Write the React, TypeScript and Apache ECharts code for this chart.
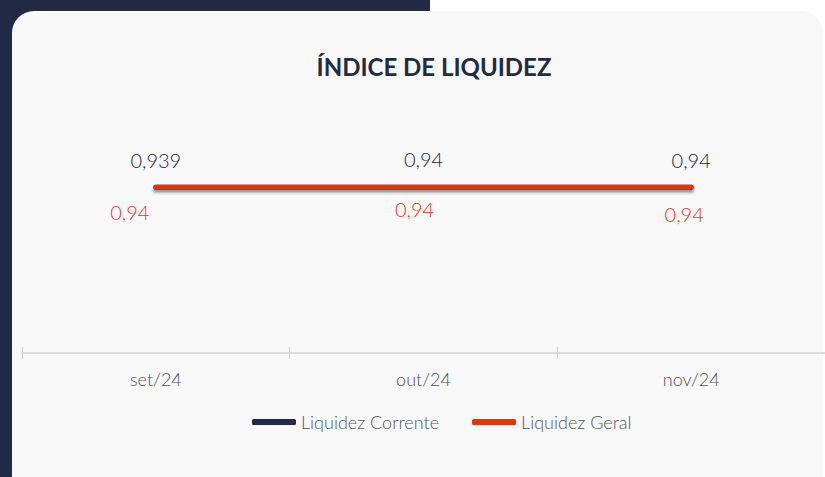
import React, { useEffect, useRef } from "react";
import * as echarts from "echarts";

const categories = ["set/24", "out/24", "nov/24"];
const liquidezCorrente = [0.939, 0.94, 0.94];
const liquidezGeral = [0.94, 0.94, 0.94];
const seriesNames = ["Liquidez Corrente", "Liquidez Geral"];
const chartTitle = "ÍNDICE DE LIQUIDEZ";

// label layout tweaks (offsets in px), not data
const correnteLabelOffsets = [[0, 0], [0, -1], [0, 0]];
const geralLabelOffsets = [[-26, 0], [-9, -3], [-7, 2]];

const FONT = "Lato";
const DARK = "#232a45";
const RED = "#e5330f";

export default function App() {
  const ref = useRef<HTMLDivElement>(null);
  useEffect(() => {
    if (!ref.current) return;
    const chart = echarts.init(ref.current, undefined, { renderer: "svg" });
    const fmt3 = (v: number) => String(Number(v.toFixed(3))).replace(".", ",");
    const fmt2 = (v: number) => v.toFixed(2).replace(".", ",");
    const hiddenX = {
      type: "category",
      data: categories,
      boundaryGap: true,
      show: false,
      gridIndex: 1,
    };
    const shadowSeries = (width: number, alpha: number) => ({
      name: "shadow",
      type: "line",
      xAxisIndex: 2,
      yAxisIndex: 1,
      data: liquidezGeral,
      symbol: "none",
      silent: true,
      lineStyle: { color: `rgba(40,40,40,${alpha})`, width, cap: "round" },
      z: 1,
    });
    chart.setOption({
      animation: false,
      backgroundColor: "transparent",
      textStyle: { fontFamily: FONT },
      graphic: [
        {
          type: "text",
          x: 434,
          y: 66,
          style: {
            text: chartTitle,
            fontFamily: FONT,
            fontSize: 24,
            fontWeight: "bold",
            fill: DARK,
            align: "center",
            verticalAlign: "middle",
          },
        },
      ],
      legend: {
        left: 252,
        top: 413,
        padding: 0,
        itemWidth: 44,
        itemHeight: 6,
        itemGap: 33,
        icon: "roundRect",
        textStyle: { fontFamily: FONT, fontSize: 18, fontWeight: 300, color: "#555555" },
        data: [
          { name: seriesNames[0], itemStyle: { color: DARK, opacity: 1 } },
          { name: seriesNames[1], itemStyle: { color: RED, opacity: 1 } },
        ],
      },
      grid: [
        { left: 22, right: -4, top: 106, bottom: 124, containLabel: false },
        { left: 22, right: -4, top: 109, bottom: 121, containLabel: false },
      ],
      xAxis: [
        {
          type: "category",
          data: categories,
          boundaryGap: true,
          gridIndex: 0,
          axisLine: { lineStyle: { color: "#dcdcdc", width: 2 } },
          axisTick: { show: true, length: 6, lineStyle: { color: "#d0d0d0", width: 1 } },
          axisLabel: { fontFamily: FONT, fontSize: 18, fontWeight: 300, color: "#505050", margin: 17 },
        },
        {
          type: "category",
          data: categories,
          gridIndex: 0,
          position: "bottom",
          boundaryGap: true,
          axisLine: { show: false },
          axisTick: { show: true, inside: true, length: 6, lineStyle: { color: "#d0d0d0", width: 1 } },
          axisLabel: { show: false },
        },
        hiddenX,
      ],
      yAxis: [
        { type: "value", min: 0, max: 1.4, show: false, gridIndex: 0, splitLine: { show: false } },
        { type: "value", min: 0, max: 1.4, show: false, gridIndex: 1, splitLine: { show: false } },
      ],
      series: [
        shadowSeries(9, 0.08),
        shadowSeries(6, 0.18),
        shadowSeries(3, 0.25),
        {
          name: seriesNames[0],
          type: "line",
          data: liquidezCorrente.map((v, i) => ({
            value: v,
            label: { offset: correnteLabelOffsets[i] },
          })),
          symbol: "circle",
          symbolSize: 0,
          itemStyle: { color: DARK },
          lineStyle: { color: DARK, width: 5, cap: "round" },
          label: {
            show: true,
            position: "top",
            distance: 17,
            fontFamily: FONT,
            fontSize: 20,
            fontWeight: 300,
            color: "#1e2540",
            formatter: (p: any) => fmt3(p.value),
          },
          z: 2,
        },
        {
          name: seriesNames[1],
          type: "line",
          data: liquidezGeral.map((v, i) => ({
            value: v,
            label: { offset: geralLabelOffsets[i] },
          })),
          symbol: "circle",
          symbolSize: 0,
          itemStyle: { color: RED },
          lineStyle: { color: RED, width: 5, cap: "round" },
          label: {
            show: true,
            position: "bottom",
            distance: 15,
            fontFamily: FONT,
            fontSize: 20,
            fontWeight: 300,
            color: "#e8361a",
            formatter: (p: any) => fmt2(p.value),
          },
          z: 3,
        },
      ],
    });
    return () => chart.dispose();
  }, []);

  return (
    <div style={{ position: "fixed", left: 0, top: 0, width: 825, height: 477, background: "#ffffff", overflow: "hidden" }}>
      <div style={{ position: "absolute", left: 0, top: 0, width: 430, height: 477, background: "#222a45" }} />
      <div
        style={{
          position: "absolute",
          left: 12,
          top: 11,
          width: 811,
          height: 486,
          background: "#f8f8f8",
          borderRadius: 22,
        }}
      />
      <div ref={ref} style={{ position: "absolute", left: 0, top: 0, width: 825, height: 477 }} />
    </div>
  );
}
